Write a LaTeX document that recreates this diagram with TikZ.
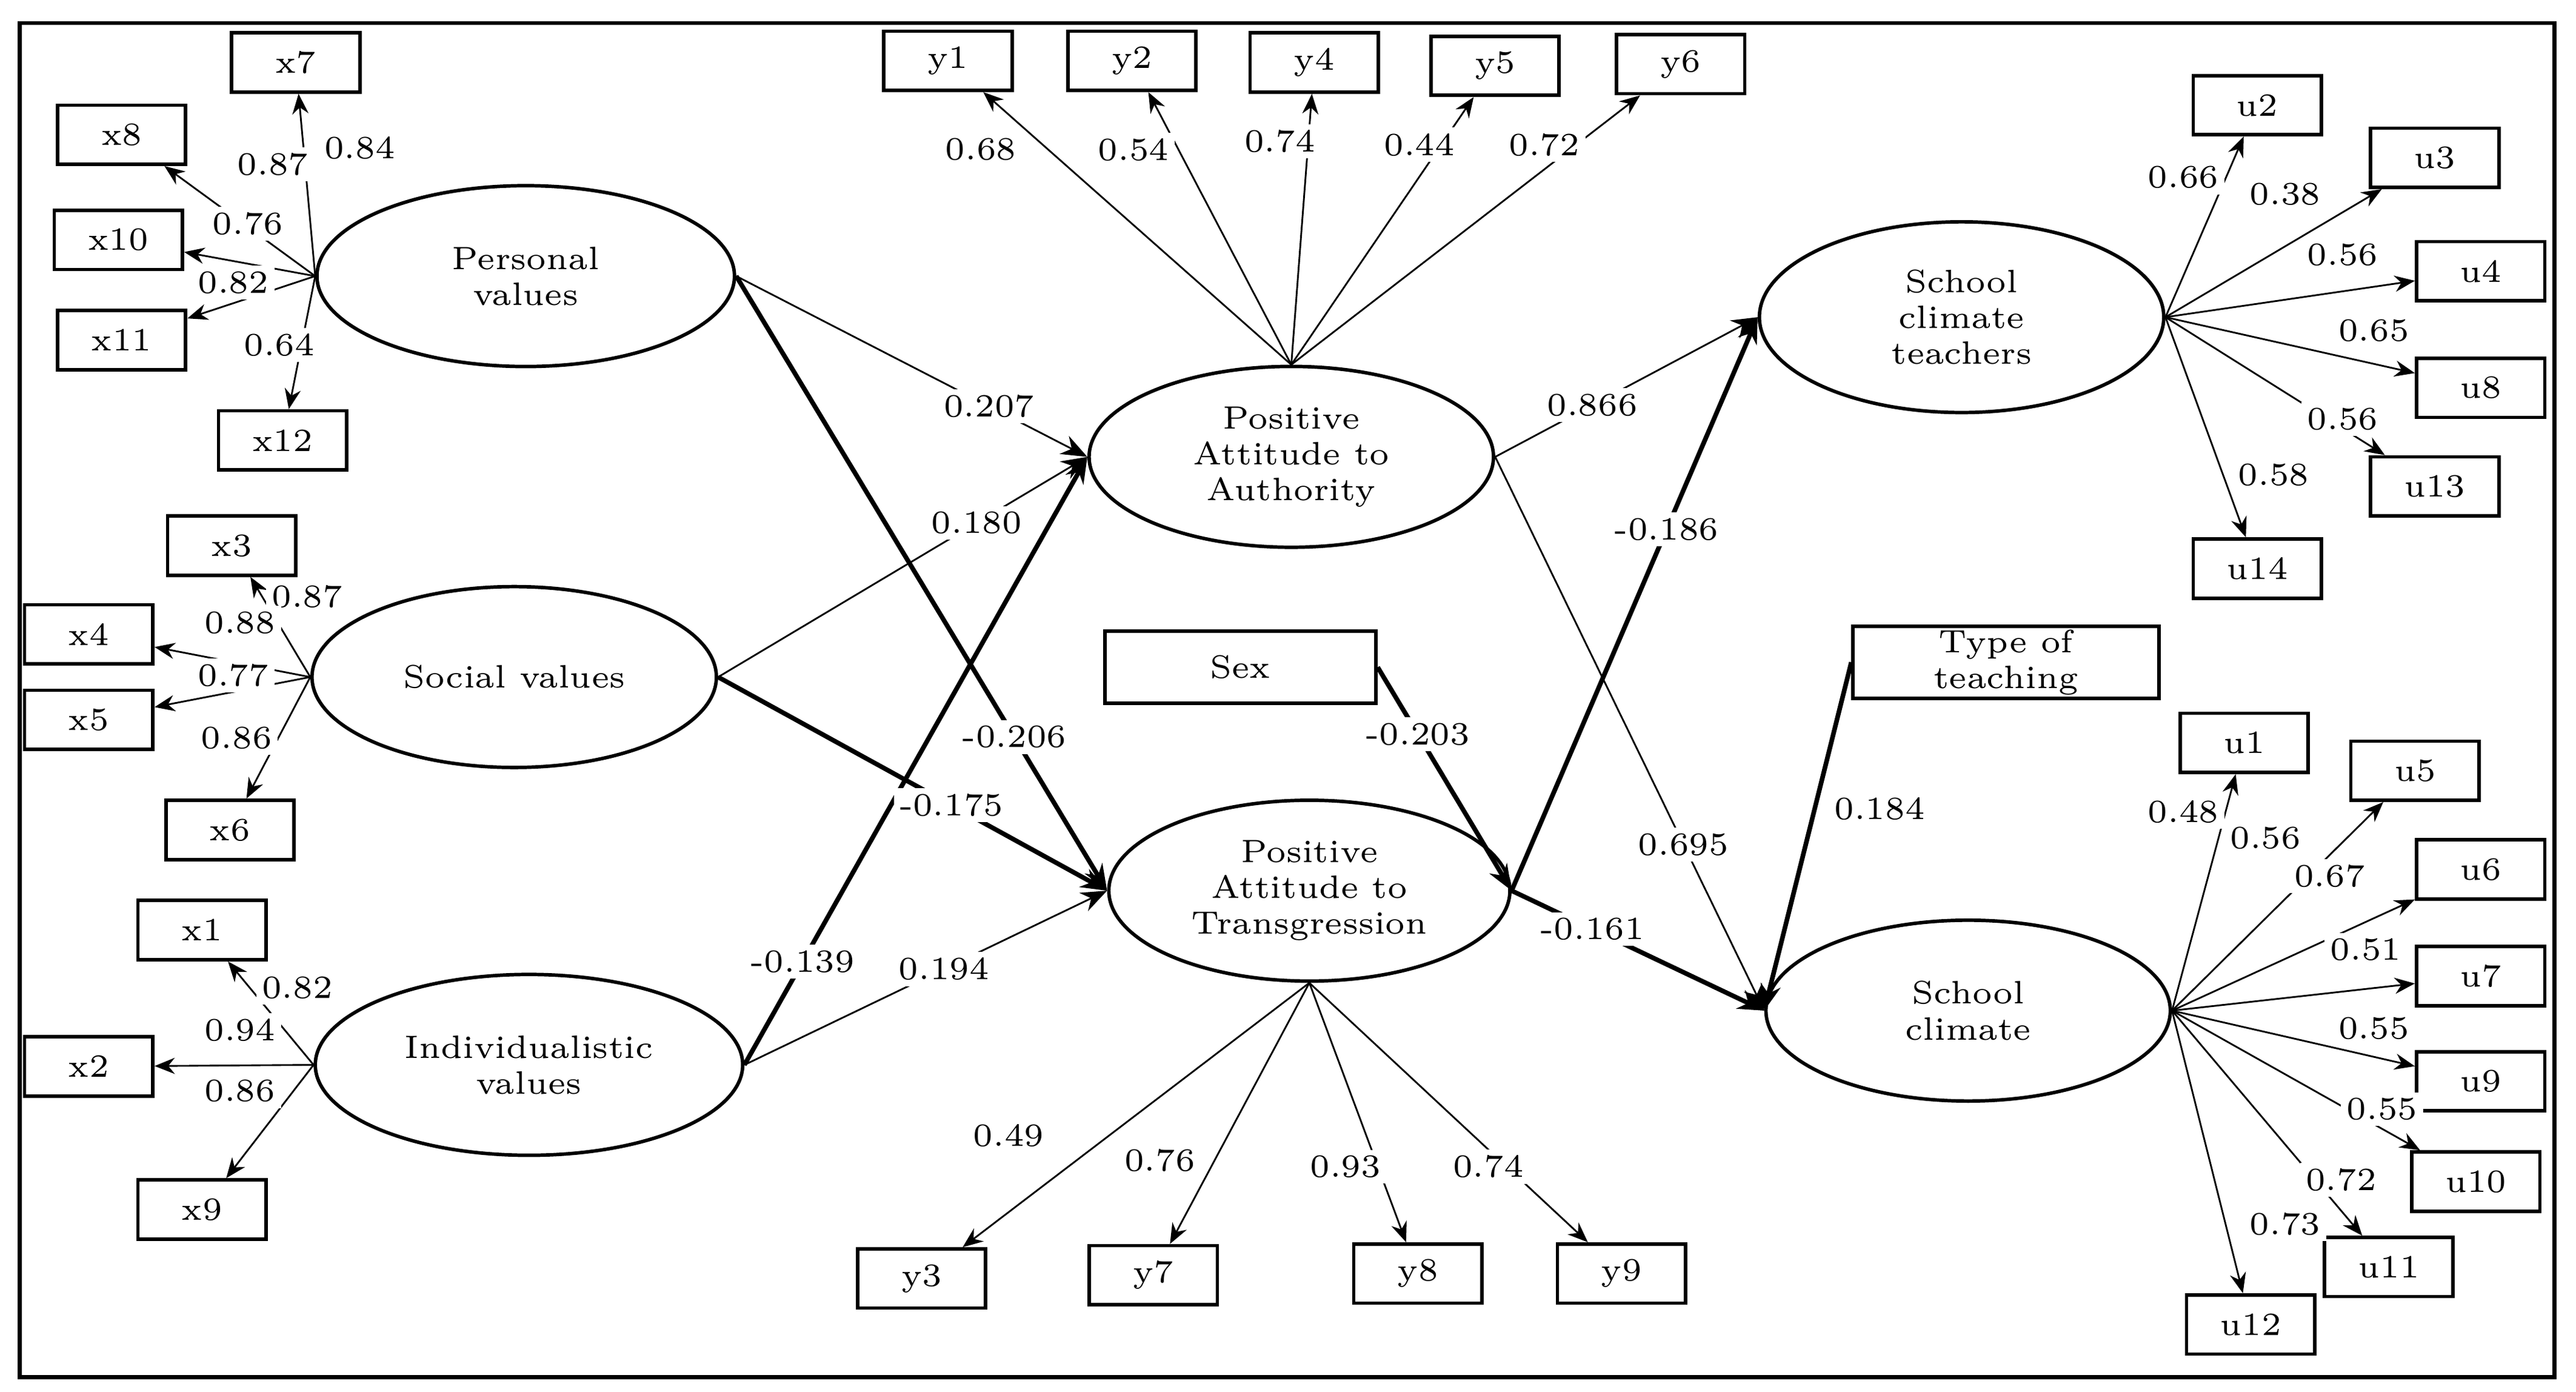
\documentclass[tikz,border=0pt]{standalone}
\usetikzlibrary{arrows.meta,shapes.geometric}
\begin{document}
\begin{tikzpicture}[x=0.01cm,y=-0.01cm,
  every node/.style={font=\fontsize{5.6}{6.2}\selectfont},
  lat/.style={draw,ellipse,minimum width=2.5cm,minimum height=1.1cm,inner sep=0pt,align=center,line width=0.6pt},
  obs/.style={draw,minimum width=0.78cm,minimum height=0.36cm,inner sep=0pt,line width=0.6pt},
  ind/.style={-{Stealth[length=3.5pt,width=2.8pt]},line width=0.3pt},
  path/.style={-{Stealth[length=4.5pt,width=3.5pt]},line width=0.3pt},
  strong/.style={-{Stealth[length=4.5pt,width=3.5pt]},line width=0.8pt},
  lbl/.style={fill=white,inner sep=1pt}]
\useasboundingbox (0,0) rectangle (1568,847);
\draw[line width=0.7pt] (12,14) rectangle (1555,838);
% latent variables
\node[lat,minimum width=2.54cm] (pv) at (320,168) {Personal\\values};
\node[lat,minimum width=2.46cm] (sv) at (313,412) {Social values};
\node[lat,minimum width=2.6cm] (iv) at (322,648) {Individualistic\\values};
\node[lat,minimum width=2.46cm] (paa) at (786,278) {Positive\\Attitude to\\Authority};
\node[lat,minimum width=2.44cm] (pat) at (797,542) {Positive\\Attitude to\\Transgression};
\node[lat,minimum width=2.46cm,minimum height=1.16cm] (sct) at (1194,193) {School\\climate\\teachers};
\node[lat,minimum width=2.46cm] (sc) at (1198,615) {School\\climate};
\node[obs,minimum width=1.65cm,minimum height=0.44cm] (sex) at (755,406) {Sex};
\node[obs,minimum width=1.86cm,minimum height=0.44cm,align=center] (tt) at (1221,403) {Type of\\teaching};
% indicators
\foreach \n/\x/\y in {x7/180/38,x8/74/82,x10/72/146,x11/74/207,x12/172/268,
  x3/141/332,x4/54/386,x5/54/438,x6/140/505,x1/123/566,x2/54/649,x9/123/736,
  y1/577/37,y2/689/37,y4/800/38,y5/910/40,y6/1023/39,
  y3/561/778,y7/702/776,y8/863/775,y9/987/775,
  u2/1374/64,u3/1482/96,u4/1510/165,u8/1510/236,u13/1482/296,u14/1374/346,
  u1/1366/452,u5/1470/469,u6/1510/529,u7/1510/594,u9/1510/658,u10/1507/719,
  u11/1454/771,u12/1370/806}
  \node[obs] (\n) at (\x,\y) {\n};
\foreach \t/\v/\x/\y in {x7/0.84/219/90,x8/0.87/166/100,x10/0.76/151/136,x11/0.82/142/172,x12/0.64/170/210}
  {\draw[ind] (pv.west) -- (\t); \node[lbl] at (\x,\y) {\v};}
\foreach \t/\v/\x/\y in {x3/0.87/187/363,x4/0.88/146/379,x5/0.77/142/411,x6/0.86/144/449}
  {\draw[ind] (sv.west) -- (\t); \node[lbl] at (\x,\y) {\v};}
\foreach \t/\v/\x/\y in {x1/0.82/181/601,x2/0.94/146/627,x9/0.86/146/664}
  {\draw[ind] (iv.west) -- (\t); \node[lbl] at (\x,\y) {\v};}
\foreach \t/\v/\x/\y in {y1/0.68/597/91,y2/0.54/690/91,y4/0.74/779/86,y5/0.44/864/88,y6/0.72/940/88}
  {\draw[ind] (paa.north) -- (\t); \node[lbl] at (\x,\y) {\v};}
\foreach \t/\v/\x/\y in {y3/0.49/614/691,y7/0.76/706/706,y8/0.93/819/710,y9/0.74/906/710}
  {\draw[ind] (pat.south) -- (\t); \node[lbl] at (\x,\y) {\v};}
\foreach \t/\v/\x/\y in {u2/0.66/1329/108,u3/0.38/1391/118,u4/0.56/1426/155,u8/0.65/1445/201,u13/0.56/1426/255,u14/0.58/1384/289}
  {\draw[ind] (sct.east) -- (\t); \node[lbl] at (\x,\y) {\v};}
\foreach \t/\v/\x/\y in {u1/0.48/1329/494,u5/0.56/1379/510,u6/0.67/1418/533,u7/0.51/1440/578,u9/0.55/1445/626,u10/0.55/1450/675,u11/0.72/1425/718,u12/0.73/1391/745}
  {\draw[ind] (sc.east) -- (\t); \node[lbl] at (\x,\y) {\v};}
% structural paths
\draw[path] (pv.east) -- node[lbl,pos=0.72] {0.207} (paa.west);
\draw[path] (sv.east) -- node[lbl,pos=0.7] {0.180} (paa.west);
\draw[strong] (iv.east) -- node[lbl,pos=0.17] {-0.139} (paa.west);
\draw[strong] (pv.east) -- node[lbl,pos=0.75] {-0.206} (pat.west);
\draw[strong] (sv.east) -- node[lbl,pos=0.6] {-0.175} (pat.west);
\draw[path] (iv.east) -- node[lbl,pos=0.55] {0.194} (pat.west);
\draw[path] (paa.east) -- node[lbl,pos=0.37] {0.866} (sct.west);
\draw[path] (paa.east) -- node[lbl,pos=0.7] {0.695} (sc.west);
\draw[strong] (pat.east) -- node[lbl,pos=0.63] {-0.186} (sct.west);
\draw[strong] (pat.east) -- node[lbl,pos=0.32] {-0.161} (sc.west);
\draw[strong] (sex.east) -- node[lbl,pos=0.3] {-0.203} (pat.east);
\draw[strong] (tt.west) -- node[lbl,pos=0.42,right=2] {0.184} (sc.west);
\end{tikzpicture}
\end{document}
